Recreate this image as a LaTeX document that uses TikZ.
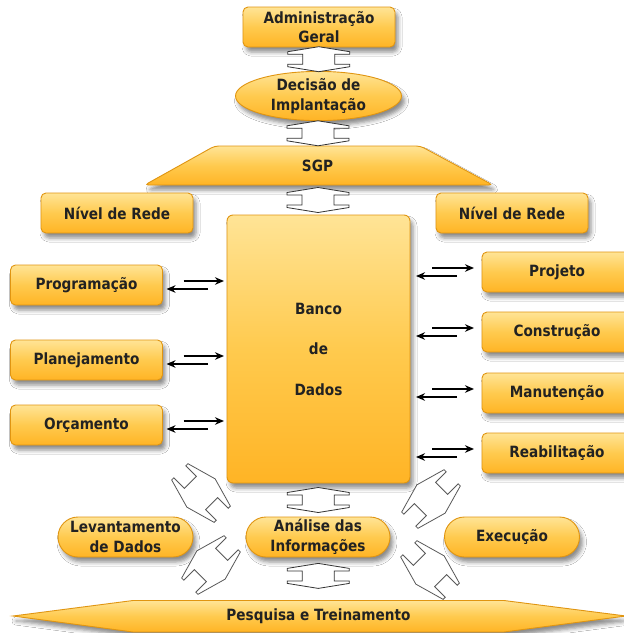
\documentclass[tikz,border=0pt]{standalone}
\usepackage{fontspec}
\newfontfamily\lblfont{DejaVu Sans}[FakeStretch=0.88]
\usetikzlibrary{shapes.geometric,shadows.blur,calc,arrows.meta}
\definecolor{boxtop}{HTML}{FFE496}
\definecolor{boxmid}{HTML}{FFCA4E}
\definecolor{boxbot}{HTML}{FFB425}
\definecolor{boxedge}{HTML}{E09511}
\definecolor{ink}{HTML}{222222}
\begin{document}
\begin{tikzpicture}[x=1pt,y=-1pt,
  every node/.style={inner sep=0pt, outer sep=0pt},
  lbl/.style={font=\lblfont\bfseries\fontsize{15.5}{19.5}\selectfont, text=ink, align=center},
  glossy/.style={draw=boxedge, line width=0.9pt, top color=boxtop, bottom color=boxbot, middle color=boxmid,
    blur shadow={shadow xshift=3pt, shadow yshift=-5pt, shadow blur radius=4pt, shadow opacity=45}},
  box/.style={glossy, lbl, rounded corners=5pt, minimum width=152pt, minimum height=40pt},
  pill/.style={glossy, lbl, rounded corners=20pt, minimum height=40pt},
  thinarr/.style={line width=1.7pt, draw=black, -{Stealth[length=9pt,width=7.5pt]}},
  hollowarrow/.style={fill=white, draw=black!80, line width=0.8pt, line join=miter},
  % short hollow double arrow (vertical links)
  pics/blockarrow/.style={code={
    \draw[hollowarrow] (0,-12.5) -- (31,-7.5) -- (31,-5) -- (16,-5) -- (16,5) -- (31,5)
      -- (31,7.5) -- (0,12.5) -- (-31,7.5) -- (-31,5) -- (-16,5) -- (-16,-5)
      -- (-31,-5) -- (-31,-7.5) -- cycle;}},
  % longer hollow double arrow (diagonal links)
  pics/diagarrow/.style={code={
    \draw[hollowarrow] (0,-20) -- (30,-11.5) -- (30,-8.5) -- (15,-8.5) -- (15,8.5) -- (30,8.5)
      -- (30,11.5) -- (0,20) -- (-30,11.5) -- (-30,8.5) -- (-15,8.5) -- (-15,-8.5)
      -- (-30,-8.5) -- (-30,-11.5) -- cycle;}}
]
\useasboundingbox[fill=white] (0,0) rectangle (624,633);

% top chain
\node[box, minimum width=152pt] (adm) at (319,27) {Administração\\Geral};
\node[glossy, lbl, ellipse, minimum width=166pt, minimum height=38pt] (dec) at (318.5,96) {Decisão de\\Implantação};
\node[glossy, lbl, trapezium, trapezium stretches=true, trapezium left angle=48,
      trapezium right angle=47, rounded corners=4pt, minimum width=349pt, minimum height=39pt]
      (sgp) at (317.5,165.5) {SGP};

% network level
\node[box] (nivL) at (117,213) {Nível de Rede};
\node[box] (nivR) at (512,213) {Nível de Rede};

% central database
\node[glossy, rounded corners=6pt, minimum width=183pt, minimum height=268pt,
      font=\lblfont\bfseries\fontsize{15.5}{40.5}\selectfont, text=ink, align=center]
      (db) at (318.5,349) {Banco\\de\\Dados};

% left column
\node[box] (prog) at (86.5,285) {Programação};
\node[box] (plan) at (86.5,360) {Planejamento};
\node[box] (orc)  at (86.5,425) {Orçamento};

% right column
\node[box, minimum width=150pt] (proj) at (557,272) {Projeto};
\node[box, minimum width=150pt] (cons) at (557,332) {Construção};
\node[box, minimum width=150pt] (manu) at (557,393) {Manutenção};
\node[box, minimum width=150pt] (reab) at (557,453) {Reabilitação};

% bottom row
\node[pill, minimum width=135pt] (lev) at (125.5,537) {Levantamento\\de Dados};
\node[pill, minimum width=144pt] (ana) at (318,537) {Análise das\\Informações};
\node[pill, minimum width=135pt] (exe) at (512,537) {Execução};

% research banner
\path[glossy] (13,616) -- (133,600.5) -- (504,600.5) -- (626,616) -- (504,632) -- (133,632) -- cycle;
\node[lbl, minimum width=370pt, minimum height=31pt] (pes) at (318.5,616.3) {Pesquisa e Treinamento};

% two-way links to the database
\foreach \n in {prog,plan,orc} {
  \draw[thinarr] ($(\n.east)+(21,-4)$) -- ($(db.west |- \n.east)+(-3,-4)$);
  \draw[thinarr] ($(db.west |- \n.east)+(-19,4)$) -- ($(\n.east)+(4,4)$);
}
\foreach \n in {proj,cons,manu,reab} {
  \draw[thinarr] ($(db.east |- \n.west)+(22,-4)$) -- ($(\n.west)+(-8,-4)$);
  \draw[thinarr] ($(\n.west)+(-25,4)$) -- ($(db.east |- \n.west)+(6,4)$);
}

% hollow double arrows
\pic at ($(adm.south)!0.5!(dec.north)$) {blockarrow};
\pic at ($(dec.south)!0.5!(sgp.north)$) {blockarrow};
\pic at ($(sgp.south)!0.5!(db.north)$) {blockarrow};
\pic at ($(db.south)!0.5!(ana.north)$) {blockarrow};
\pic at ($(ana.south)!0.5!(pes.north)+(0,-3)$) {blockarrow};
\begin{scope}[hollowarrow/.append style={draw=black!65}]
\pic[rotate=-45] at (201,493) {diagarrow};
\pic[rotate=45]  at (211,565) {diagarrow};
\pic[rotate=45]  at (431,499) {diagarrow};
\pic[rotate=-45] at (430,570) {diagarrow};
\end{scope}
\end{tikzpicture}
\end{document}
